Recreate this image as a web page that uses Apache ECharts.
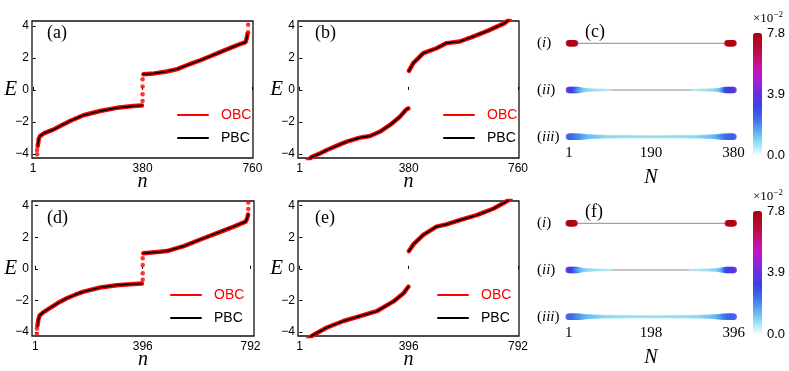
<!DOCTYPE html>
<html><head><meta charset="utf-8">
<script src="https://cdn.jsdelivr.net/npm/echarts@6/dist/echarts.min.js"></script>
<style>html,body{margin:0;padding:0;background:#fff}#c{width:789px;height:371px}</style>
</head><body><div id="c"></div>
<script>
// ---------- Panel (a): N = 760 ----------
const a_lowN = [17, 19, 21, 25, 40, 71, 100, 129, 175, 233, 291, 349, 378];
const a_lowE = [-3.5, -3.3, -3.05, -2.88, -2.7, -2.48, -2.2, -1.94, -1.58, -1.32, -1.12, -1.01, -0.97];
const a_upN  = [383, 420, 464, 500, 522, 550, 580, 610, 638, 665, 695, 720, 736, 740, 743];
const a_upE  = [0.97, 1.03, 1.15, 1.3, 1.46, 1.65, 1.85, 2.07, 2.28, 2.48, 2.7, 2.88, 2.98, 3.2, 3.5];
const a_dotN = [15, 15, 380, 380, 380, 380, 745, 745];
const a_dotE = [-4.02, -3.75, 0.67, 0.21, -0.27, -0.69, 3.6, 4.06];
// ---------- Panel (b): N = 760 ----------
const b_lowN = [30, 44, 73, 96, 131, 165, 211, 246, 281, 315, 350, 370, 379];
const b_lowE = [-4.4, -4.17, -3.96, -3.75, -3.48, -3.23, -2.98, -2.88, -2.6, -2.19, -1.67, -1.25, -1.15];
const b_upN  = [381, 396, 431, 477, 512, 558, 604, 650, 714, 730];
const b_upE  = [1.19, 1.67, 2.29, 2.6, 2.92, 3.02, 3.33, 3.65, 4.17, 4.4];
// ---------- Panel (d): N = 792 ----------
const d_lowN = [9, 12, 17, 30, 56, 85, 117, 150, 179, 240, 301, 350, 393];
const d_lowE = [-3.6, -3.25, -2.95, -2.75, -2.47, -2.15, -1.86, -1.62, -1.44, -1.18, -1.03, -0.97, -0.93];
const d_upN  = [398, 440, 485, 547, 608, 669, 731, 774, 780, 783];
const d_upE  = [0.99, 1.05, 1.13, 1.44, 1.86, 2.27, 2.68, 2.99, 3.2, 3.45];
const d_dotN = [7, 7, 396, 396, 396, 396, 784, 784];
const d_dotE = [-4.12, -3.77, 0.68, 0.25, -0.27, -0.68, 3.8, 4.2];
// ---------- Panel (e): N = 792 ----------
const e_lowN = [30, 46, 100, 160, 220, 280, 341, 377, 395];
const e_lowE = [-4.45, -4.23, -3.71, -3.3, -2.99, -2.68, -2.06, -1.55, -1.13];
const e_upN  = [397, 413, 449, 497, 533, 581, 642, 702, 750, 765];
const e_upE  = [1.13, 1.55, 2.16, 2.68, 2.82, 3.09, 3.4, 3.81, 4.27, 4.45];

const ticksA = [1, 380, 760];
const ticksD = [1, 396, 792];
const ticksE = [-4, -2, 0, 2, 4];

// ---------- Panel (c): |psi|^2 per site, N = 380 ----------
const c_rowI = [[1,.078],[3,.078],[5,.078],[7,.078],[9,.078],[11,.078],[13,.077],[15,.075],
  [366,.075],[368,.077],[370,.078],[372,.078],[374,.078],[376,.078],[378,.078],[380,.078]];
const c_rowII = [[1,.036],[3,.036],[5,.035],[7,.035],[9,.034],[11,.033],[13,.032],[15,.03],[17,.027],[19,.024],[21,.021],[24,.018],[27,.016],[30,.014],[34,.012],[38,.011],[43,.0098],[48,.0088],[54,.008],[60,.0074],[66,.0068],[72,.0063],[78,.0058],[84,.0054],[90,.005],[96,.0046],
  [285,.0046],[291,.005],[297,.0054],[303,.0058],[309,.0063],[315,.0068],[321,.0074],[327,.008],[333,.0088],[338,.0098],[343,.011],[347,.012],[351,.014],[354,.016],[357,.018],[360,.021],[362,.024],[364,.027],[366,.03],[368,.032],[370,.033],[372,.034],[374,.035],[376,.035],[378,.036],[380,.036]];
const c_rowIII = [[1,.025],[3,.025],[5,.025],[7,.025],[9,.024],[11,.024],[13,.023],[15,.023],[18,.022],[21,.021],[24,.02],[27,.019],[30,.018],[33,.017],[36,.016],[39,.015],[42,.014],[46,.0135],[50,.013],[54,.0125],[58,.012],[63,.0115],[68,.011],[73,.0105],[78,.010],[84,.0096],[90,.0092],[96,.0089],[102,.0086],[108,.0083],[114,.0081],[120,.0079],
  [125,.0078],[130,.0077],[135,.0076],[140,.0075],[145,.0075],[150,.0074],[155,.0074],[160,.0073],[165,.0073],[170,.0073],[175,.0072],[180,.0072],[185,.0072],[190,.0072],[195,.0072],[200,.0072],[205,.0072],[210,.0073],[215,.0073],[220,.0073],[225,.0074],[230,.0074],[235,.0075],[240,.0075],[245,.0076],[250,.0077],[255,.0078],
  [261,.0079],[267,.0081],[273,.0083],[279,.0086],[285,.0089],[291,.0092],[297,.0096],[303,.010],[308,.0105],[313,.011],[318,.0115],[323,.012],[327,.0125],[331,.013],[335,.0135],[339,.014],[342,.015],[345,.016],[348,.017],[351,.018],[354,.019],[357,.020],[360,.021],[363,.022],[366,.023],[368,.023],[370,.024],[372,.024],[374,.025],[376,.025],[378,.025],[380,.025]];
// ---------- Panel (f): |psi|^2 per site, N = 396 ----------
const f_rowI = [[1,.078],[3,.078],[5,.078],[7,.078],[9,.078],[11,.078],[13,.077],[15,.075],
  [382,.075],[384,.077],[386,.078],[388,.078],[390,.078],[392,.078],[394,.078],[396,.078]];
const f_rowII = [[1,.036],[3,.036],[5,.035],[7,.035],[9,.034],[11,.033],[13,.032],[15,.03],[17,.027],[19,.024],[21,.021],[24,.018],[27,.016],[30,.014],[34,.012],[38,.011],[43,.0098],[49,.0088],[55,.008],[61,.0074],[68,.0068],[75,.0063],[82,.0058],[89,.0054],[96,.005],[103,.0046],
  [294,.0046],[301,.005],[308,.0054],[315,.0058],[322,.0063],[328,.0068],[335,.0074],[341,.008],[347,.0088],[353,.0098],[358,.011],[362,.012],[366,.014],[370,.016],[373,.018],[376,.021],[378,.024],[380,.027],[382,.03],[384,.032],[386,.033],[388,.034],[390,.035],[392,.035],[394,.036],[396,.036]];
const f_rowIII = [[1,.025],[3,.025],[5,.025],[7,.025],[9,.024],[11,.024],[13,.023],[15,.023],[18,.022],[21,.021],[24,.02],[27,.019],[30,.018],[33,.017],[36,.016],[39,.015],[42,.014],[46,.0135],[50,.013],[54,.0125],[58,.012],[63,.0115],[68,.011],[73,.0105],[78,.010],[84,.0096],[90,.0092],[96,.0089],[102,.0086],[108,.0083],[114,.0081],[120,.0079],
  [125,.0078],[130,.0077],[135,.0076],[140,.0075],[145,.0075],[150,.0074],[155,.0074],[160,.0073],[165,.0073],[170,.0073],[175,.0072],[180,.0072],[185,.0072],[190,.0072],[195,.0072],[200,.0072],[205,.0072],[210,.0072],[215,.0072],[220,.0073],[225,.0073],[230,.0073],[235,.0074],[240,.0074],[245,.0075],[250,.0075],[255,.0076],[260,.0077],[265,.0078],[270,.0078],
  [277,.0079],[283,.0081],[289,.0083],[295,.0086],[301,.0089],[307,.0092],[313,.0096],[319,.010],[324,.0105],[329,.011],[334,.0115],[339,.012],[343,.0125],[347,.013],[351,.0135],[355,.014],[358,.015],[361,.016],[364,.017],[367,.018],[370,.019],[373,.020],[376,.021],[379,.022],[382,.023],[384,.023],[386,.024],[388,.024],[390,.025],[392,.025],[394,.025],[396,.025]];
const c_ticks = [1, 190, 380];
const f_ticks = [1, 198, 396];
const cbarTicks = [0, 3.9, 7.8];
const vmax = 0.078;
const colormap = ['#f5feff','#8ee2f7','#58aaf2','#3c6cea','#3c40e6','#6232e0','#a41ed6','#c812b8','#c01060','#b40828','#b00010'];

// ---------- build ----------
const zip = (ns, es) => ns.map((n, i) => [n, es[i]]);
const SANS = 'Liberation Sans', SERIF = 'Liberation Serif';
const grids = [
  {left:32, top:21, width:221, height:137},
  {left:298, top:21, width:221, height:137},
  {left:32, top:201, width:222, height:137},
  {left:298, top:201, width:221, height:137},
  {left:562, top:37, width:178, height:106},
  {left:562, top:217, width:178, height:106},
  {left:753, top:33, width:9, height:122},
  {left:753, top:211, width:9, height:123}
].map((g, i) => Object.assign(g, i < 4 ? {show:true, borderColor:'#111', borderWidth:1.3} : {}));

const xAxes = [], yAxes = [];
function enAxes(gi, min, max, ticks) {
  xAxes.push({gridIndex:gi, type:'value', min, max, axisLine:{show:false}, splitLine:{show:false},
    axisTick:{inside:true, length:3, customValues:ticks, lineStyle:{color:'#000'}},
    axisLabel:{customValues:ticks, fontFamily:SANS, fontSize:12, color:'#000', margin:5},
    name:'n', nameLocation:'middle', nameGap:14, nameMoveOverlap:false,
    nameTextStyle:{fontFamily:SERIF, fontStyle:'italic', fontSize:20, color:'#000'}});
  yAxes.push({gridIndex:gi, type:'value', min:-4.25, max:4.3, axisLine:{show:false}, splitLine:{show:false},
    axisTick:{inside:true, length:3, customValues:ticksE, lineStyle:{color:'#000'}},
    axisLabel:{customValues:ticksE, fontFamily:SANS, fontSize:12, color:'#000', margin:3,
      formatter: v => v < 0 ? '\u2212' + Math.abs(v) : String(v)},
    name:'E', nameLocation:'middle', nameGap:15, nameRotate:0, nameMoveOverlap:false,
    nameTextStyle:{fontFamily:SERIF, fontStyle:'italic', fontSize:21, color:'#000'}});
}
enAxes(0, -2.5, 762, ticksA);
enAxes(1, -4.5, 763.5, ticksA);
enAxes(2, -11, 805, ticksD);
enAxes(3, -4.8, 795.6, ticksD);

const rowName = {1:'{p|(}{it|iii}{p|)}', 2:'{p|(}{it|ii}{p|)}', 3:'{p|(}{it|i}{p|)}'};
function siteAxes(gi, max, ticks) {
  xAxes.push({gridIndex:gi, type:'value', min:-15, max, axisLine:{show:false}, axisTick:{show:false}, splitLine:{show:false},
    axisLabel:{customValues:ticks, fontFamily:SERIF, fontSize:15, color:'#000', margin:3},
    name:'N', nameLocation:'middle', nameGap:25, nameMoveOverlap:false,
    nameTextStyle:{fontFamily:SERIF, fontStyle:'italic', fontSize:20, color:'#000'}});
  yAxes.push({gridIndex:gi, type:'value', min:0.865, max:3.135, axisLine:{show:false}, axisTick:{show:false}, splitLine:{show:false},
    axisLabel:{customValues:[1,2,3], formatter: v => rowName[v], align:'left', margin:25,
      rich:{p:{fontFamily:SERIF, fontSize:15, color:'#000'}, it:{fontFamily:SERIF, fontStyle:'italic', fontSize:15, color:'#000'}}}});
}
siteAxes(4, 395, c_ticks);
siteAxes(5, 411, f_ticks);
function cbarAxes(gi) {
  xAxes.push({gridIndex:gi, type:'value', show:false});
  yAxes.push({gridIndex:gi, type:'value', position:'left', min:0, max:7.8, axisLine:{show:false}, axisTick:{show:false}, splitLine:{show:false},
    axisLabel:{customValues:cbarTicks, inside:true, margin:14, formatter: v => v.toFixed(1), fontFamily:SANS, fontSize:13, color:'#000'},
    name:'\u00d710{s|\u22122}', nameLocation:'end', nameGap:3,
    nameTextStyle:{fontFamily:SERIF, fontSize:13, color:'#000', align:'left', verticalAlign:'bottom', lineHeight:16,
      rich:{s:{fontFamily:SERIF, fontSize:9, verticalAlign:'top', lineHeight:16, color:'#000'}}}});
}
cbarAxes(6); cbarAxes(7);

const series = [];
const lineS = (gi, name, data, color, width, z) => ({type:'line', name, xAxisIndex:gi, yAxisIndex:gi, data,
  symbol:'none', lineStyle:{color, width, cap:'round', join:'round'}, itemStyle:{color}, z, animation:false, silent:true});
function enSeries(gi, lowN, lowE, upN, upE, dotN, dotE) {
  const low = zip(lowN, lowE), up = zip(upN, upE);
  series.push(lineS(gi, 'OBC', low, '#ff0000', 4.5, 2));
  series.push(lineS(gi, 'OBC', up, '#ff0000', 4.5, 2));
  if (dotN) series.push({type:'scatter', name:'OBC', xAxisIndex:gi, yAxisIndex:gi, data:zip(dotN, dotE),
    symbolSize:4.5, itemStyle:{color:'#ff0000'}, z:2, animation:false, silent:true});
  series.push(lineS(gi, 'PBC', low, '#000000', 1.7, 3));
  series.push(lineS(gi, 'PBC', up, '#000000', 1.7, 3));
}
enSeries(0, a_lowN, a_lowE, a_upN, a_upE, a_dotN, a_dotE);
enSeries(1, b_lowN, b_lowE, b_upN, b_upE);
enSeries(2, d_lowN, d_lowE, d_upN, d_upE, d_dotN, d_dotE);
enSeries(3, e_lowN, e_lowE, e_upN, e_upE);

const scatterIdx = [];
function siteSeries(gi, nMax, rows) {
  [3, 2, 1].forEach(y => series.push({type:'line', xAxisIndex:gi, yAxisIndex:gi, data:[[1, y], [nMax, y]],
    symbol:'none', lineStyle:{color:'#8a8a8a', width:1}, z:1, animation:false, silent:true}));
  const pts = [];
  rows.forEach(r => r.pts.forEach(p => pts.push([p[0], r.y, p[1]])));
  scatterIdx.push(series.length);
  series.push({type:'scatter', xAxisIndex:gi, yAxisIndex:gi, data:pts, z:2, animation:false, silent:true,
    symbolSize: d => Math.min(6.5, 2 + d[2] * 220)});
}
siteSeries(4, 380, [{y:3, pts:c_rowI}, {y:2, pts:c_rowII}, {y:1, pts:c_rowIII}]);
siteSeries(5, 396, [{y:3, pts:f_rowI}, {y:2, pts:f_rowII}, {y:1, pts:f_rowIII}]);

const vm = (idx, top, h) => ({type:'continuous', min:0, max:vmax, dimension:2, seriesIndex:idx,
  inRange:{color:colormap}, left:753, top, itemWidth:9, itemHeight:h, calculable:false, padding:0,
  hoverLink:false, realtime:false});

const legend = (left, top) => ({left, top, orient:'vertical', padding:0, itemWidth:30, itemHeight:14, itemGap:9,
  selectedMode:false, data:[{name:'OBC', textStyle:{color:'#ff0000'}}, {name:'PBC', textStyle:{color:'#000'}}],
  lineStyle:{width:2}, itemStyle:{opacity:0}, textStyle:{fontFamily:SANS, fontSize:14, padding:[0,0,0,8]}});

const tt = (text, left, top) => ({text, left, top, padding:0,
  textStyle:{fontFamily:SERIF, fontSize:18, fontWeight:'normal', color:'#000'}});

const chart = echarts.init(document.getElementById('c'), null, {renderer:'canvas'});
chart.setOption({
  animation:false,
  backgroundColor:'#fff',
  title:[tt('(a)', 47, 24), tt('(b)', 315, 24), tt('(c)', 585, 23), tt('(d)', 47, 209), tt('(e)', 315, 209), tt('(f)', 585, 203)],
  grid:grids, xAxis:xAxes, yAxis:yAxes, series,
  legend:[legend(177, 108), legend(443, 108), legend(170, 288), legend(437, 288)],
  visualMap:[vm(scatterIdx[0], 33, 122), vm(scatterIdx[1], 211, 123)]
});
</script></body></html>
